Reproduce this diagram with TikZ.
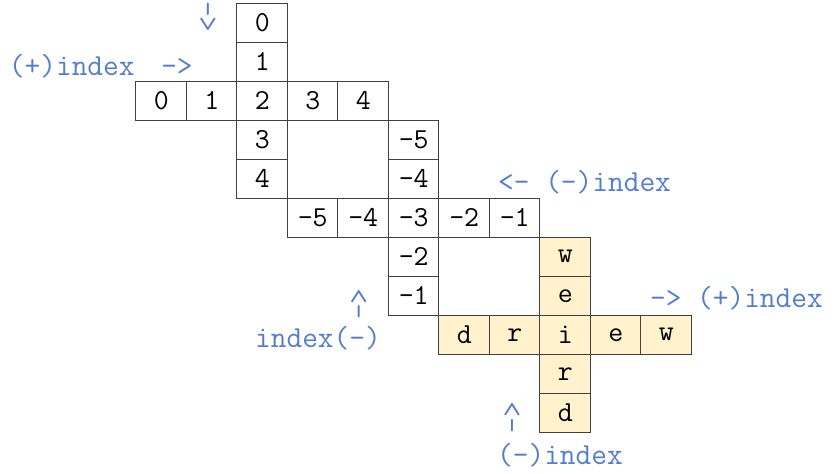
\documentclass[tikz,border=0pt]{standalone}
\usepackage{fontspec}
\definecolor{gridline}{RGB}{64,64,64}
\definecolor{wordfill}{RGB}{255,242,204}
\definecolor{notecol}{RGB}{84,125,208}
\newcommand\cellfont{\ttfamily\fontsize{29}{29}\selectfont}
\newcommand\notefont{\ttfamily\fontsize{30.5}{30.5}\selectfont}

\begin{document}
\begin{tikzpicture}[
        x=50.5pt, y=-39pt,
        cell/.style={
        draw=gridline, line width=1pt,
        minimum width=50.5pt, minimum height=39pt,
        inner sep=0pt, font=\cellfont},
        word/.style={cell, fill=wordfill},
        note/.style={text=notecol, font=\notefont, inner sep=0pt},
        ]

        \useasboundingbox (-3.193,-0.585) rectangle (13.342,11.569);

        % positive indices
        \foreach \i in {0,...,4}
            \node (a\i) [cell] at (2,\i) {\i};
        \foreach \i in {0,1,3,4}
            \node (b\i) [cell] at (\i,2) {\i};

        % negative indices
        \foreach \n [count=\k from 3] in {-5,-4,-3,-2,-1}
            \node (c\k) [cell] at (5,\k) {\n};
        \foreach \n/\k in {-5/3,-4/4,-2/6,-1/7}
            \node (d\k) [cell] at (\k,5) {\n};

        % the word
        \foreach \t [count=\k from 6] in {w,e,i,r,d}
            \node (e\k) [word] at (8,\k) {\t};
        \foreach \t/\k in {d/6,r/7,e/9,w/10}
            \node (f\k) [word] at (\k,8) {\t};

        % notes
        \node (posrow) [note, anchor=west] at (-3.02,1.1) {(+)index\hspace{11pt} ->};
        \node (poscol) [note, rotate=-90] at (0.906,-0.15) {->};
        \node (negrow) [note, anchor=west] at (6.668,4.08) {<- (-)index};
        \node (negcolup) [note, rotate=90] at (3.93,7.21) {->};
        \node (negcol) [note] at (3.104,8.08) {index(-)};
        \node (wordrow) [note, anchor=west] at (9.676,7.06) {-> (+)index};
        \node (wordcolup) [note, rotate=90] at (6.966,10.13) {->};
        \node (wordcol) [note] at (7.896,11.08) {(-)index};
    \end{tikzpicture}
\end{document}
